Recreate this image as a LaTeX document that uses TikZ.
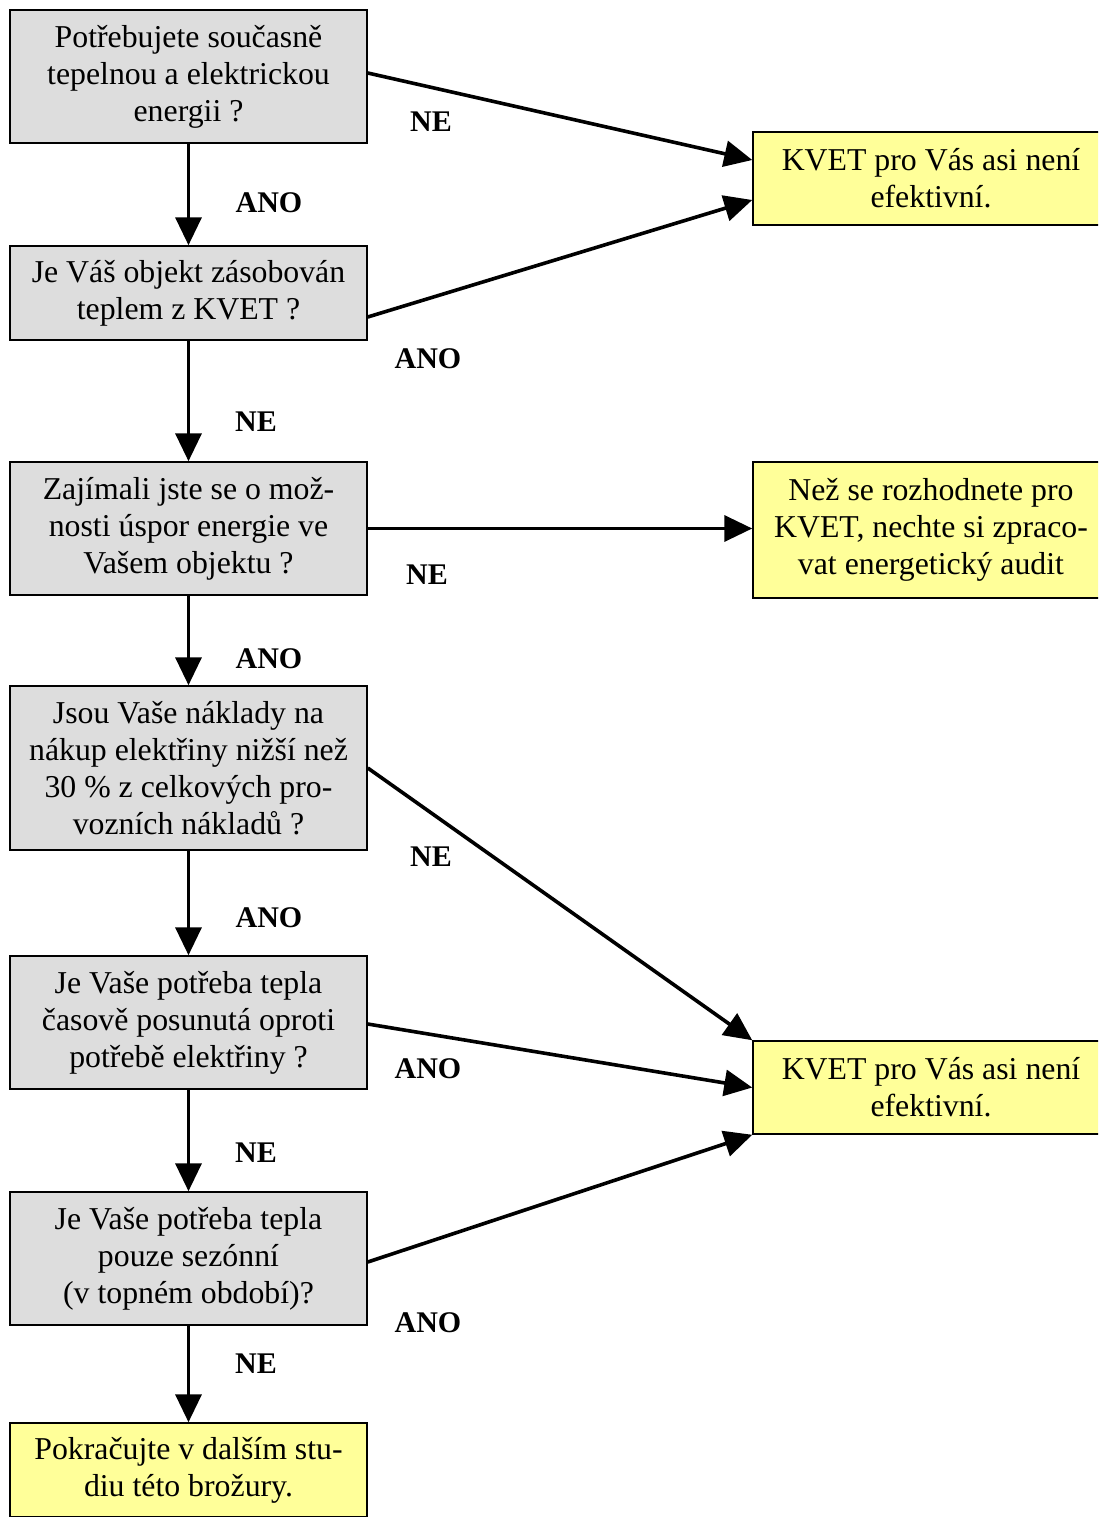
\documentclass[tikz,border=0pt]{standalone}
\usepackage{fontspec}
\setmainfont{Liberation Serif}
\usetikzlibrary{arrows.meta,calc}
\definecolor{qgray}{HTML}{DDDDDD}
\definecolor{ayellow}{HTML}{FFFF99}
\begin{document}
\begin{tikzpicture}[x=1pt,y=-1pt,
  box/.style={draw=black,line width=1.5pt,rectangle,inner sep=0pt,align=center,
    minimum width=357pt,font=\fontsize{31.8}{37}\selectfont},
  qbox/.style={box,fill=qgray},
  abox/.style={box,fill=ayellow},
  conn/.style={line width=3.6pt,-{Triangle[length=28pt,width=26pt]}},
  lab/.style={font=\fontsize{30}{34}\selectfont\bfseries}]
\path[use as bounding box,clip] (0,0) rectangle (1098,1517);
\node[qbox,minimum height=133pt] (q1) at (188.5,76.5) {Potřebujete současně\\tepelnou a elektrickou\\energii ?};
\node[qbox,minimum height=94pt] (q2) at (188.5,293) {Je Váš objekt zásobován\\teplem z KVET ?};
\node[qbox,minimum height=133pt] (q3) at (188.5,528.5) {Zajímali jste se o mož-\\nosti úspor energie ve\\Vašem objektu ?};
\node[qbox,minimum height=164pt] (q4) at (188.5,768) {Jsou Vaše náklady na\\nákup elektřiny nižší než\\30 \% z celkových pro-\\vozních nákladů ?};
\node[qbox,minimum height=133pt] (q5) at (188.5,1022.5) {Je Vaše potřeba tepla\\časově posunutá oproti\\potřebě elektřiny ?};
\node[qbox,minimum height=133pt] (q6) at (188.5,1258.5) {Je Vaše potřeba tepla\\pouze sezónní\\(v topném období)?};
\node[abox,minimum height=94pt] (end) at (188.5,1470) {Pokračujte v dalším stu-\\diu této brožury.};
\node[abox,minimum width=356pt,minimum height=93pt] (ra) at (931,178.5) {KVET pro Vás asi není\\efektivní.};
\node[abox,minimum width=356pt,minimum height=136pt] (rb) at (931,530) {Než se rozhodnete pro\\KVET, nechte si zpraco-\\vat energetický audit};
\node[abox,minimum width=356pt,minimum height=93pt] (rc) at (931,1087.5) {KVET pro Vás asi není\\efektivní.};
% vertical
\draw[conn] (q1.south) -- (q2.north);
\draw[conn] (q2.south) -- (q3.north);
\draw[conn] (q3.south) -- (q4.north);
\draw[conn] (q4.south) -- (q5.north);
\draw[conn] (q5.south) -- (q6.north);
\draw[conn] (q6.south) -- (end.north);
% to the right
\draw[conn] ([yshift=3.5pt]q1.east) -- ([yshift=18.5pt]ra.west);
\draw[conn] ([yshift=-24pt]q2.east) -- ([yshift=-21.5pt]ra.west);
\draw[conn] (q3.east) -- (q3.east -| rb.west);
\draw[conn] (q4.east) -- (rc.north west);
\draw[conn] ([yshift=-1.5pt]q5.east) -- (rc.west);
\draw[conn] ([yshift=-3.5pt]q6.east) -- (rc.south west);
% labels
\node[lab] (l1) at (431,122) {NE};
\node[lab] (l2) at (269,203) {ANO};
\node[lab] (l3) at (428,359) {ANO};
\node[lab] (l4) at (256,422) {NE};
\node[lab] (l5) at (427,575) {NE};
\node[lab] (l6) at (269,659) {ANO};
\node[lab] (l7) at (431,857) {NE};
\node[lab] (l8) at (269,918) {ANO};
\node[lab] (l9) at (428,1069) {ANO};
\node[lab] (l10) at (256,1153) {NE};
\node[lab] (l11) at (428,1323) {ANO};
\node[lab] (l12) at (256,1364) {NE};
\end{tikzpicture}
\end{document}
